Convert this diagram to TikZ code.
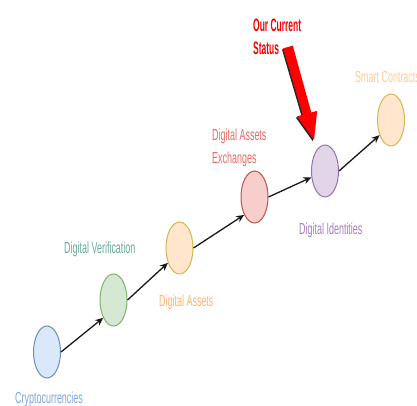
\documentclass[tikz,border=0pt]{standalone}
\usepackage{fontspec}
\setmainfont[FakeStretch=0.56]{Liberation Sans}
\newfontfamily\boldnarrow[FakeStretch=0.47]{Liberation Sans Bold}
\usetikzlibrary{arrows.meta,shapes.geometric}
\definecolor{bluefill}{HTML}{DAE8FC}\definecolor{bluedraw}{HTML}{6C8EBF}\definecolor{bluetext}{HTML}{7EA6E0}
\definecolor{greenfill}{HTML}{D5E8D4}\definecolor{greendraw}{HTML}{82B366}\definecolor{greentext}{HTML}{67AB9F}
\definecolor{peachfill}{HTML}{FFE6CC}\definecolor{golddraw}{HTML}{D6B656}\definecolor{orangetext}{HTML}{FFB570}
\definecolor{redfill}{HTML}{F8CECC}\definecolor{reddraw}{HTML}{B85450}\definecolor{redtext}{HTML}{EA6B66}
\definecolor{purplefill}{HTML}{E1D5E7}\definecolor{purpledraw}{HTML}{9673A6}\definecolor{purpletext}{HTML}{A680B8}
\definecolor{lightpeachtext}{HTML}{FFCC99}
\begin{document}
\begin{tikzpicture}[x=1pt,y=-1pt,
  stage/.style={ellipse,draw,line width=1pt,minimum width=27pt,minimum height=52pt,inner sep=0pt},
  lbl/.style={anchor=base west,inner sep=0pt,font=\fontsize{16}{23}\selectfont,align=left},
  conn/.style={line width=1.3pt,draw=black!90,-{Stealth[length=8pt,width=7pt]}}]
\useasboundingbox (0,0) rectangle (417,405);
\fill[white] (0,0) rectangle (417,405);
\node[stage,fill=bluefill,draw=bluedraw] (c) at (47,352) {};
\node[stage,fill=greenfill,draw=greendraw] (v) at (113.5,300) {};
\node[stage,fill=peachfill,draw=golddraw] (a) at (179.5,248) {};
\node[stage,fill=redfill,draw=reddraw] (e) at (254.5,197) {};
\node[stage,fill=purplefill,draw=purpledraw] (i) at (325,171) {};
\node[stage,fill=peachfill,draw=golddraw] (s) at (391,120) {};
\draw[conn] (c.east) -- (v.240);
\draw[conn] (v.east) -- (a.232);
\draw[conn] (a.east) -- (e.240);
\draw[conn] (e.east) -- (i.205);
\draw[conn] (i.east) -- (s.233);
\node[lbl,text=bluetext] (tc) at (15,403) {Cryptocurrencies};
\node[lbl,text=greentext] (tv) at (64,253) {Digital Verification};
\node[lbl,text=orangetext] (ta) at (159,306) {Digital Assets};
\node[lbl,text=redtext] (te) at (212,163) {Digital Assets\\Exchanges};
\node[lbl,text=purpletext] (ti) at (299,234) {Digital Identities};
\node[lbl,text=lightpeachtext] (ts) at (355,82) {Smart Contracts};
\node[anchor=base west,inner sep=0pt,align=left,text=red,font=\boldnarrow\fontsize{18}{23}\selectfont] (st) at (253,54) {Our Current\\Status};
\def\arrowpath{(292.8,45.7) -- (311.3,112.5) -- (317.2,110.8) -- (314,140) -- (297.0,116.4) -- (302.7,114.8) -- (283.2,48.3) -- cycle}
\fill[black!85,shift={(-1.2,1.2)}] \arrowpath;
\fill[red] \arrowpath;
\end{tikzpicture}
\end{document}
